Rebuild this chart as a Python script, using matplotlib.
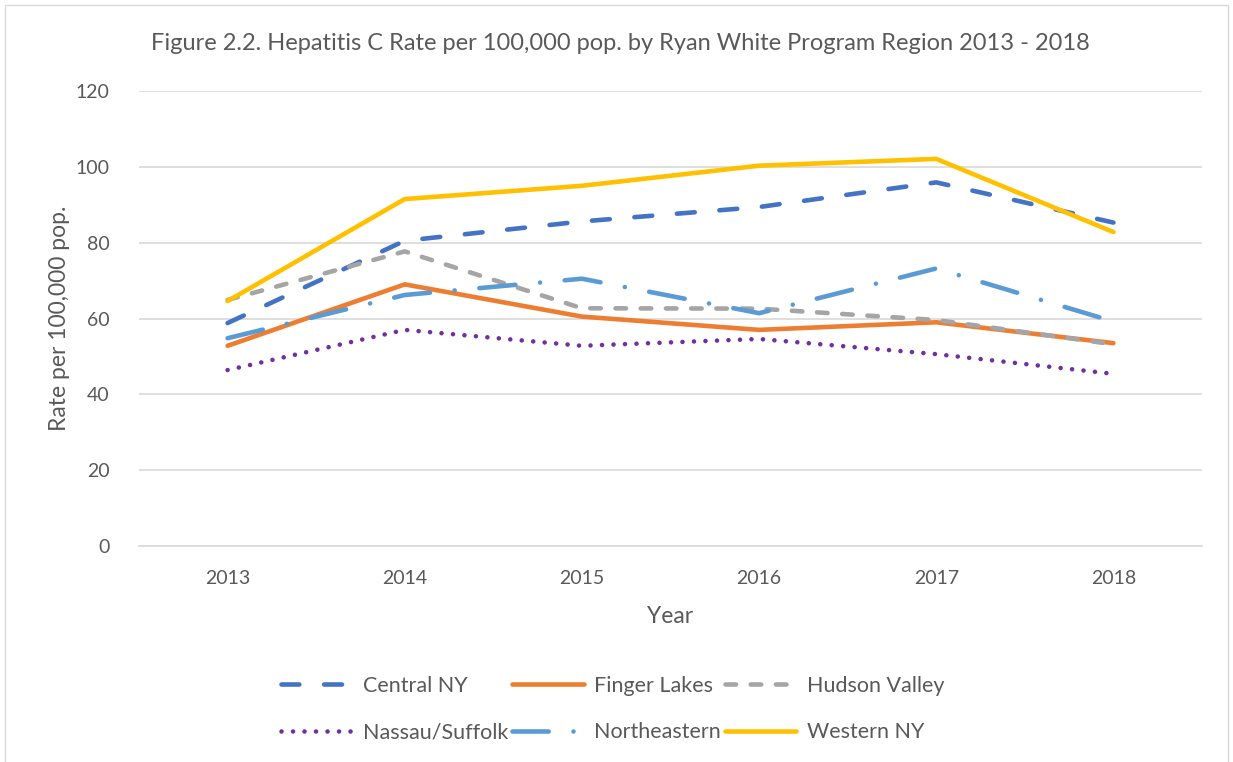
import matplotlib.pyplot as plt
from matplotlib.patches import Rectangle

years = ["2013", "2014", "2015", "2016", "2017", "2018"]
central_ny = [58.8, 80.5, 85.6, 89.4, 95.9, 85.3]
finger_lakes = [52.8, 69.0, 60.5, 57.0, 59.0, 53.5]
hudson_valley = [64.9, 77.7, 62.7, 62.6, 59.6, 53.2]
nassau_suffolk = [46.4, 57.0, 52.8, 54.6, 50.6, 45.4]
northeastern = [54.8, 66.2, 70.5, 61.4, 73.2, 59.2]
western_ny = [64.6, 91.5, 95.0, 100.3, 102.1, 82.8]

series = [
    ("Central NY", central_ny, "#4472C4", (0, (3.9, 5.4))),
    ("Finger Lakes", finger_lakes, "#ED7D31", "-"),
    ("Hudson Valley", hudson_valley, "#A5A5A5", (0, (2.3, 3.2))),
    ("Nassau/Suffolk", nassau_suffolk, "#7030A0", (0, (0.01, 2.5))),
    ("Northeastern", northeastern, "#5B9BD5", (0, (7.9, 5.4, 0.01, 5.4))),
    ("Western NY", western_ny, "#FFC000", "-"),
]

FONT = ["Lato", "DejaVu Sans"]
TXT = "#595959"
plt.rcParams["font.family"] = FONT

fig = plt.figure(figsize=(12.33, 7.62), dpi=100)
fig.patches.append(Rectangle((5 / 1233, -0.01), 1223 / 1233, 1.01 - 5 / 762,
                             transform=fig.transFigure, fill=False,
                             edgecolor="#d9d9d9", linewidth=1))
ax = fig.add_axes([139 / 1233, 1 - 546 / 762, (1202 - 139) / 1233, 455 / 762])

x = list(range(len(years)))
handles = {}
for name, vals, color, ls in series:
    (ln,) = ax.plot(x, vals, color=color, linestyle=ls, linewidth=3.3,
                    dash_capstyle="round", solid_capstyle="round",
                    solid_joinstyle="miter", label=name)
    handles[name] = ln

ax.set_xlim(-0.5, len(years) - 0.5)
ax.set_ylim(0, 120)
ax.set_yticks(range(0, 121, 20))
ax.set_xticks(x)
ax.set_xticklabels(years)
ax.grid(True, axis="y", color="#d9d9d9", linewidth=1.2)
ax.set_axisbelow(True)
for s in ["top", "right", "left"]:
    ax.spines[s].set_visible(False)
ax.spines["bottom"].set_color("#d9d9d9")
ax.spines["bottom"].set_linewidth(1.2)
ax.tick_params(length=0, labelsize=14, labelcolor=TXT)
ax.tick_params(axis="y", pad=21)
ax.tick_params(axis="x", pad=17)

ax.set_ylabel("Rate per 100,000 pop.", fontsize=16.5, color=TXT, labelpad=4)
ax.set_xlabel("Year", fontsize=16.5, color=TXT, labelpad=14)
fig.text(620 / 1233, 1 - 43 / 762,
         "Figure 2.2. Hepatitis C Rate per 100,000 pop. by Ryan White Program Region 2013 - 2018",
         ha="center", va="center", fontsize=17, color=TXT)

order = ["Central NY", "Nassau/Suffolk", "Finger Lakes", "Northeastern",
         "Hudson Valley", "Western NY"]
fig.legend([handles[n] for n in order], order, loc="center",
           bbox_to_anchor=(0.497, 1 - 709 / 762), ncol=3, frameon=False,
           fontsize=15.5, labelcolor=TXT, handlelength=3.3, handletextpad=0.5,
           columnspacing=0.2, labelspacing=1.25)

fig.savefig("out.png", dpi=100)
